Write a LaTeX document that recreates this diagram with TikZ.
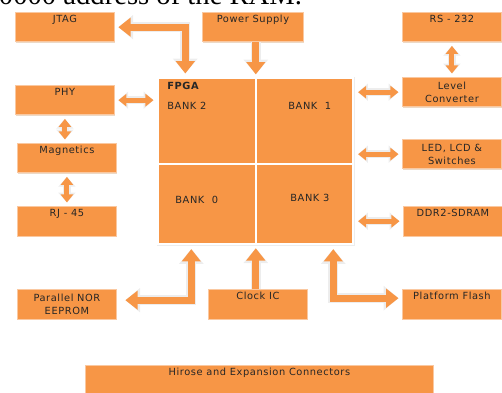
\documentclass[tikz,border=0pt]{standalone}
\usepackage{fontspec}
\newfontfamily\boxfont[LetterSpace=6]{DejaVu Sans}
\newfontfamily\headfont{Liberation Serif}
\usetikzlibrary{arrows.meta,shadows}
\definecolor{accent}{HTML}{F79646}
\definecolor{rim}{HTML}{FAC8A0}
\definecolor{ink}{HTML}{262626}
\definecolor{glow}{HTML}{EDEDED}
\tikzset{
  headS/.tip={Triangle[width=7pt,length=4.6pt]},
  glowS/.tip={Triangle[width=9.6pt,length=5.6pt]},
  headB/.tip={Triangle[width=10.5pt,length=7pt]},
  glowB/.tip={Triangle[width=13.5pt,length=8.4pt]},
  blk/.style={anchor=north west, fill=accent, draw=rim, line width=0.5pt, inner sep=0pt,
    minimum width=1.98cm, minimum height=0.59cm, align=center, text=ink,
    font=\boxfont\fontsize{5.6}{7.2}\selectfont,
    drop shadow={shadow xshift=0.5pt, shadow yshift=-0.7pt, fill=brown!30!white, opacity=1}},
  topline/.style={text height=0.14cm, text depth=0.31cm},
  bank/.style={anchor=north west, fill=accent, draw=white, line width=1pt, inner sep=0pt},
  banklbl/.style={anchor=west, inner sep=0pt, text=ink, font=\boxfont\fontsize{5.6}{7.2}\selectfont},
  link/.style={draw=accent, line width=2.8pt, headS-headS, shorten <=2pt, shorten >=2pt,
    preaction={draw=glow, line width=4.4pt, glowS-glowS}},
  bigLink/.style={draw=accent, line width=4pt, headB-headB, shorten <=2pt, shorten >=2pt,
    preaction={draw=glow, line width=5.6pt, glowB-glowB}},
  bigArrow/.style={draw=accent, line width=4pt, -headB, shorten >=1.5pt,
    preaction={draw=glow, line width=5.6pt, -glowB}}
}
\begin{document}
\begin{tikzpicture}[x=0.02cm,y=-0.02cm]
  \useasboundingbox (0,0) rectangle (502,392);

  % cut-off line of the page above
  \node[anchor=base west, inner sep=0pt, font=\headfont\fontsize{16.3}{18}\selectfont] (heading) at (-15.7,5) {00000 address of the RAM.};

  % outer boxes
  \node[blk, topline] (jtag) at (15,12) {JTAG};
  \node[blk, topline, minimum width=2.02cm] (power) at (202,12) {Power Supply};
  \node[blk, topline] (rs) at (402,12) {RS - 232};
  \node[blk, topline] (phy) at (15,85) {PHY};
  \node[blk, topline] (mag) at (17,143) {Magnetics};
  \node[blk, topline] (rj) at (17,206) {RJ - 45};
  \node[blk] (level) at (402,77) {Level\\Converter};
  \node[blk] (led) at (402,139) {LED, LCD \&\\Switches};
  \node[blk, topline] (ddr) at (403,206) {DDR2-SDRAM};
  \node[blk] (nor) at (17,289) {Parallel NOR\\EEPROM};
  \node[blk, topline] (clock) at (208,289) {Clock IC};
  \node[blk, topline] (platform) at (402,289) {Platform Flash};
  \node[blk, topline, minimum width=6.96cm] (hirose) at (85,365) {Hirose and Expansion Connectors};

  % FPGA with its four banks
  \node[anchor=north west, inner sep=0pt, minimum width=3.9cm, minimum height=3.32cm, draw=glow, line width=1.5pt] (fpga) at (157,77) {};
  \node[bank, minimum width=1.96cm, minimum height=1.72cm] (bank2) at (157,77) {};
  \node[bank, minimum width=1.94cm, minimum height=1.72cm] (bank1) at (255,77) {};
  \node[bank, minimum width=1.96cm, minimum height=1.6cm] (bank0) at (157,163) {};
  \node[bank, minimum width=1.94cm, minimum height=1.6cm] (bank3) at (255,163) {};
  \node[banklbl, font=\boxfont\bfseries\fontsize{5.6}{7.2}\selectfont] (fpgatxt) at (167,86) {FPGA};
  \node[banklbl] (bank2txt) at (167,106) {BANK 2};
  \node[banklbl] (bank1txt) at (288,106) {BANK\ \ 1};
  \node[banklbl] (bank0txt) at (175,200) {BANK\ \ 0};
  \node[banklbl] (bank3txt) at (290,198) {BANK 3};

  % connections
  \draw[bigLink] (jtag.east) -| ([xshift=-1.41cm]fpga.north);
  \draw[bigArrow] (power.south -| fpga.north) -- (fpga.north);
  \draw[link] (rs.south) -- (level.north);
  \draw[link] (level.west) -- (level.west -| fpga.east);
  \draw[link] (phy.east) -- (phy.east -| fpga.west);
  \draw[link] (phy.south) -- (phy.south |- mag.north);
  \draw[link] (mag.south) -- (mag.south |- rj.north);
  \draw[link] (led.west) -- (led.west -| fpga.east);
  \draw[link] (ddr.west) -- (ddr.west -| fpga.east);
  \draw[bigLink] ([xshift=0.1cm,yshift=0.08cm]nor.east) -| ([xshift=-1.29cm]fpga.south);
  \draw[bigArrow] (clock.north -| fpga.south) -- (fpga.south);
  \draw[bigLink] ([xshift=1.55cm]fpga.south) |- ([yshift=0.12cm]platform.west);
\end{tikzpicture}
\end{document}
